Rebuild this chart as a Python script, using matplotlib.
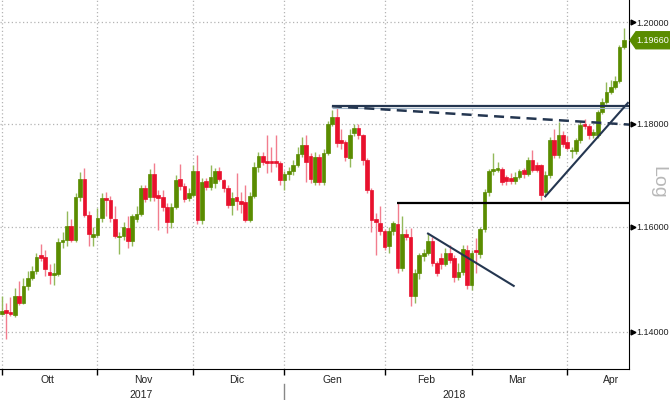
import matplotlib.pyplot as plt
import numpy as np
from matplotlib.ticker import NullLocator
from matplotlib.transforms import blended_transform_factory
from matplotlib.patches import Polygon

plt.rcParams['font.family'] = ['Liberation Sans', 'DejaVu Sans']

# EUR/CHF giornaliero, ott 2017 - apr 2018
apertura = [1.1434, 1.1441, 1.1437, 1.1431, 1.1467, 1.1455, 1.1486, 1.1503, 1.1515, 1.1545,
            1.1542, 1.1514, 1.1507, 1.1510, 1.1570, 1.1574, 1.1601, 1.1574, 1.1657, 1.1692,
            1.1623, 1.1580, 1.1585, 1.1617, 1.1656, 1.1652, 1.1615, 1.1580, 1.1582, 1.1597,
            1.1572, 1.1615, 1.1625, 1.1674, 1.1657, 1.1702, 1.1662, 1.1657, 1.1638, 1.1610,
            1.1639, 1.1692, 1.1679, 1.1655, 1.1662, 1.1708, 1.1614, 1.1689, 1.1677, 1.1685,
            1.1708, 1.1690, 1.1675, 1.1642, 1.1657, 1.1650, 1.1648, 1.1613, 1.1660, 1.1716,
            1.1737, 1.1727, 1.1728, 1.1727, 1.1723, 1.1691, 1.1702, 1.1707, 1.1719, 1.1740,
            1.1758, 1.1737, 1.1687, 1.1735, 1.1687, 1.1742, 1.1800, 1.1812, 1.1768, 1.1764,
            1.1733, 1.1781, 1.1792, 1.1777, 1.1729, 1.1671, 1.1615, 1.1608, 1.1591, 1.1563,
            1.1591, 1.1606, 1.1522, 1.1587, 1.1580, 1.1467, 1.1512, 1.1544, 1.1550, 1.1572,
            1.1531, 1.1540, 1.1529, 1.1550, 1.1540, 1.1504, 1.1513, 1.1556, 1.1488, 1.1556,
            1.1547, 1.1596, 1.1668, 1.1707, 1.1710, 1.1712, 1.1697, 1.1695, 1.1688, 1.1697,
            1.1709, 1.1702, 1.1729, 1.1719, 1.1719, 1.1667, 1.1700, 1.1767, 1.1738, 1.1777,
            1.1765, 1.1746, 1.1746, 1.1767, 1.1800, 1.1796, 1.1777, 1.1777, 1.1822, 1.1842,
            1.1862, 1.1872, 1.1883, 1.1951]
massimo = [1.1467, 1.1455, 1.1465, 1.1483, 1.1496, 1.1502, 1.1515, 1.1525, 1.1550, 1.1567,
           1.1556, 1.1528, 1.1530, 1.1578, 1.1590, 1.1630, 1.1615, 1.1665, 1.1706, 1.1713,
           1.1630, 1.1600, 1.1637, 1.1665, 1.1668, 1.1660, 1.1640, 1.1590, 1.1610, 1.1620,
           1.1625, 1.1640, 1.1680, 1.1680, 1.1712, 1.1724, 1.1670, 1.1671, 1.1645, 1.1645,
           1.1700, 1.1722, 1.1685, 1.1675, 1.1720, 1.1738, 1.1695, 1.1695, 1.1720, 1.1714,
           1.1716, 1.1692, 1.1680, 1.1668, 1.1704, 1.1668, 1.1680, 1.1668, 1.1725, 1.1745,
           1.1745, 1.1777, 1.1754, 1.1778, 1.1728, 1.1708, 1.1715, 1.1730, 1.1755, 1.1774,
           1.1777, 1.1742, 1.1745, 1.1740, 1.1750, 1.1805, 1.1826, 1.1830, 1.1790, 1.1768,
           1.1790, 1.1800, 1.1800, 1.1780, 1.1733, 1.1675, 1.1627, 1.1640, 1.1595, 1.1600,
           1.1612, 1.1646, 1.1620, 1.1595, 1.1598, 1.1520, 1.1550, 1.1558, 1.1588, 1.1580,
           1.1535, 1.1550, 1.1560, 1.1565, 1.1545, 1.1530, 1.1566, 1.1565, 1.1555, 1.1578,
           1.1600, 1.1672, 1.1712, 1.1742, 1.1725, 1.1716, 1.1700, 1.1703, 1.1705, 1.1712,
           1.1714, 1.1735, 1.1748, 1.1725, 1.1722, 1.1708, 1.1773, 1.1790, 1.1803, 1.1785,
           1.1775, 1.1755, 1.1772, 1.1805, 1.1808, 1.1800, 1.1790, 1.1826, 1.1850, 1.1882,
           1.1885, 1.1893, 1.1955, 1.1988]
minimo = [1.1432, 1.1387, 1.1429, 1.1428, 1.1451, 1.1452, 1.1480, 1.1498, 1.1510, 1.1535,
          1.1505, 1.1490, 1.1488, 1.1505, 1.1560, 1.1563, 1.1570, 1.1570, 1.1650, 1.1618,
          1.1563, 1.1563, 1.1580, 1.1610, 1.1620, 1.1610, 1.1578, 1.1547, 1.1575, 1.1559,
          1.1563, 1.1610, 1.1620, 1.1648, 1.1650, 1.1650, 1.1594, 1.1630, 1.1588, 1.1598,
          1.1635, 1.1670, 1.1648, 1.1650, 1.1658, 1.1605, 1.1605, 1.1670, 1.1670, 1.1675,
          1.1688, 1.1667, 1.1636, 1.1623, 1.1633, 1.1627, 1.1610, 1.1610, 1.1655, 1.1705,
          1.1720, 1.1704, 1.1706, 1.1715, 1.1680, 1.1671, 1.1690, 1.1700, 1.1715, 1.1735,
          1.1687, 1.1684, 1.1680, 1.1680, 1.1680, 1.1738, 1.1795, 1.1755, 1.1750, 1.1728,
          1.1715, 1.1775, 1.1770, 1.1720, 1.1665, 1.1590, 1.1545, 1.1585, 1.1555, 1.1550,
          1.1585, 1.1512, 1.1515, 1.1575, 1.1448, 1.1455, 1.1500, 1.1535, 1.1545, 1.1525,
          1.1505, 1.1520, 1.1525, 1.1530, 1.1495, 1.1498, 1.1508, 1.1482, 1.1480, 1.1512,
          1.1540, 1.1590, 1.1660, 1.1700, 1.1705, 1.1680, 1.1680, 1.1682, 1.1682, 1.1692,
          1.1695, 1.1698, 1.1706, 1.1705, 1.1652, 1.1660, 1.1695, 1.1732, 1.1733, 1.1755,
          1.1748, 1.1733, 1.1740, 1.1762, 1.1790, 1.1770, 1.1772, 1.1772, 1.1818, 1.1838,
          1.1858, 1.1868, 1.1880, 1.1946]
chiusura = [1.1439, 1.1435, 1.1433, 1.1467, 1.1455, 1.1486, 1.1503, 1.1515, 1.1543, 1.1541,
            1.1519, 1.1507, 1.1512, 1.1570, 1.1574, 1.1602, 1.1574, 1.1657, 1.1692, 1.1623,
            1.1587, 1.1587, 1.1617, 1.1656, 1.1652, 1.1617, 1.1582, 1.1583, 1.1599, 1.1572,
            1.1620, 1.1625, 1.1674, 1.1653, 1.1702, 1.1657, 1.1655, 1.1638, 1.1610, 1.1639,
            1.1690, 1.1679, 1.1653, 1.1666, 1.1708, 1.1613, 1.1687, 1.1677, 1.1697, 1.1708,
            1.1692, 1.1674, 1.1642, 1.1656, 1.1649, 1.1644, 1.1613, 1.1660, 1.1716, 1.1737,
            1.1726, 1.1723, 1.1723, 1.1723, 1.1691, 1.1702, 1.1708, 1.1719, 1.1740, 1.1758,
            1.1726, 1.1692, 1.1735, 1.1687, 1.1742, 1.1800, 1.1812, 1.1762, 1.1762, 1.1735,
            1.1777, 1.1792, 1.1777, 1.1729, 1.1671, 1.1613, 1.1609, 1.1591, 1.1561, 1.1591,
            1.1607, 1.1522, 1.1587, 1.1580, 1.1467, 1.1512, 1.1545, 1.1550, 1.1572, 1.1531,
            1.1512, 1.1528, 1.1550, 1.1536, 1.1504, 1.1513, 1.1558, 1.1488, 1.1550, 1.1551,
            1.1596, 1.1668, 1.1708, 1.1711, 1.1713, 1.1687, 1.1688, 1.1688, 1.1697, 1.1707,
            1.1702, 1.1729, 1.1710, 1.1710, 1.1662, 1.1700, 1.1767, 1.1738, 1.1777, 1.1761,
            1.1753, 1.1749, 1.1767, 1.1797, 1.1796, 1.1777, 1.1783, 1.1822, 1.1842, 1.1862,
            1.1872, 1.1883, 1.1951, 1.1964]
ultimo_prezzo = '1.19660'

mesi = ['Ott', 'Nov', 'Dic', 'Gen', 'Feb', 'Mar', 'Apr']
inizio_mese = [0, 22, 44, 65, 88, 108, 130, 151]   # indice della prima seduta del mese
anni = ['2017', '2018']
inizio_anno = [0, 65, 144]
livelli_y = [1.14, 1.16, 1.18, 1.20]

# linee di analisi tecnica: (indice seduta, prezzo)
resistenza = [(75.9, 1.1834), (144.3, 1.1834)]
resistenza_chiara = [(75.9, 1.1830), (144.3, 1.1830)]
resistenza_tratteggiata = [(75.9, 1.1834), (144.3, 1.1798)]
supporto = [(90.9, 1.1646), (144.3, 1.1646)]
trend_ribasso = [(97.8, 1.1588), (117.9, 1.1486)]
trend_rialzo = [(124.8, 1.1657), (144.1, 1.1842)]

VERDE = '#5a8c00'
ROSSO = '#e8112d'
VERDE_OMBRA = '#93b95a'
ROSSO_OMBRA = '#f27d8e'
BLU = '#243650'

fig = plt.figure(figsize=(6.7, 4.0), dpi=100)
ax = fig.add_axes([0, 31 / 400, 629 / 670, 369 / 400])

o = np.array(apertura)
h = np.array(massimo)
l = np.array(minimo)
c = np.array(chiusura)
x = np.arange(len(c))
su = c >= o

ax.vlines(x[su], l[su], h[su], color=VERDE_OMBRA, lw=1, zorder=2)
ax.vlines(x[~su], l[~su], h[~su], color=ROSSO_OMBRA, lw=1, zorder=2)
basso = np.minimum(o, c)
alto = np.maximum(o, c)
ax.bar(x[su], alto[su] - basso[su], bottom=basso[su], width=0.85, color=VERDE,
       edgecolor=VERDE, lw=0.5, zorder=3)
ax.bar(x[~su], alto[~su] - basso[~su], bottom=basso[~su], width=0.85, color=ROSSO,
       edgecolor=ROSSO, lw=0.5, zorder=3)

def linea(punti, **kw):
    xs, ys = zip(*punti)
    ax.plot(xs, ys, zorder=4, solid_capstyle='butt', **kw)

linea(resistenza_chiara, color='#9fb4c8', lw=0.8)
linea(resistenza, color=BLU, lw=1.6)
linea(resistenza_tratteggiata, color=BLU, lw=1.8, ls=(0, (4, 2.5)))
linea(supporto, color='black', lw=1.6)
linea(trend_ribasso, color=BLU, lw=1.5)
linea(trend_rialzo, color=BLU, lw=1.5)

ax.set_yscale('log')
ax.set_ylim(1.1330, 1.2044)
ax.set_xlim(-0.39, 144.2)

# asse y a destra
ax.yaxis.tick_right()
ax.yaxis.set_minor_locator(NullLocator())
ax.set_yticks(livelli_y)
ax.set_yticklabels([f'{v:.5f}' for v in livelli_y])
ax.tick_params(axis='y', length=0, pad=5, labelsize=6.5, labelcolor='#222222')
tr_y = blended_transform_factory(ax.transAxes, ax.transData)
ax.plot([1.006] * len(livelli_y), livelli_y, ls='none', marker='>', ms=3.5,
        color='black', transform=tr_y, clip_on=False)

# asse x: mesi e anni
ax.set_xticks(inizio_mese[:-1])
ax.set_xticklabels([])
ax.tick_params(axis='x', length=4, width=1, color='black', direction='out')
tr_x = blended_transform_factory(ax.transData, ax.transAxes)
for i, m in enumerate(mesi):
    centro = (inizio_mese[i] + inizio_mese[i + 1]) / 2 - 0.5
    ax.text(centro, -0.030, m, transform=tr_x, ha='center', va='center',
            fontsize=7.5, color='#222222')
for i, a in enumerate(anni):
    centro = (inizio_anno[i] + inizio_anno[i + 1]) / 2 - 0.5
    ax.text(centro, -0.071, a, transform=tr_x, ha='center', va='center',
            fontsize=7.5, color='#222222')
ax.plot([inizio_anno[1], inizio_anno[1]], [-0.042, -0.09], color='#888888', lw=1,
        transform=tr_x, clip_on=False)

ax.grid(True, color='#b4b4b4', ls=(0, (1, 2)), lw=0.9)
ax.set_axisbelow(True)
for lato in ['top', 'left']:
    ax.spines[lato].set_visible(False)
ax.spines['right'].set_color('black')
ax.spines['bottom'].set_color('black')

# etichetta ultimo prezzo
y_disp = ax.transData.transform((0, chiusura[-1]))[1]
y0 = y_disp / 400
x0 = 629 / 670
dx = 1 / 670
dy = 1 / 400
tag = Polygon([(x0 + dx, y0), (x0 + 7 * dx, y0 + 8.5 * dy), (1.0, y0 + 8.5 * dy),
               (1.0, y0 - 8.5 * dy), (x0 + 7 * dx, y0 - 8.5 * dy)],
              closed=True, transform=fig.transFigure, color=VERDE, zorder=5)
fig.patches.append(tag)
fig.text(x0 + 7 * dx, y0, ultimo_prezzo, color='white', fontsize=6.5, va='center',
         ha='left', zorder=6)

fig.text(658 / 670, 1 - 182 / 400, 'Log', rotation=270, color='#b8b8b8', fontsize=14,
         ha='center', va='center')

fig.savefig('out.png', dpi=100)
